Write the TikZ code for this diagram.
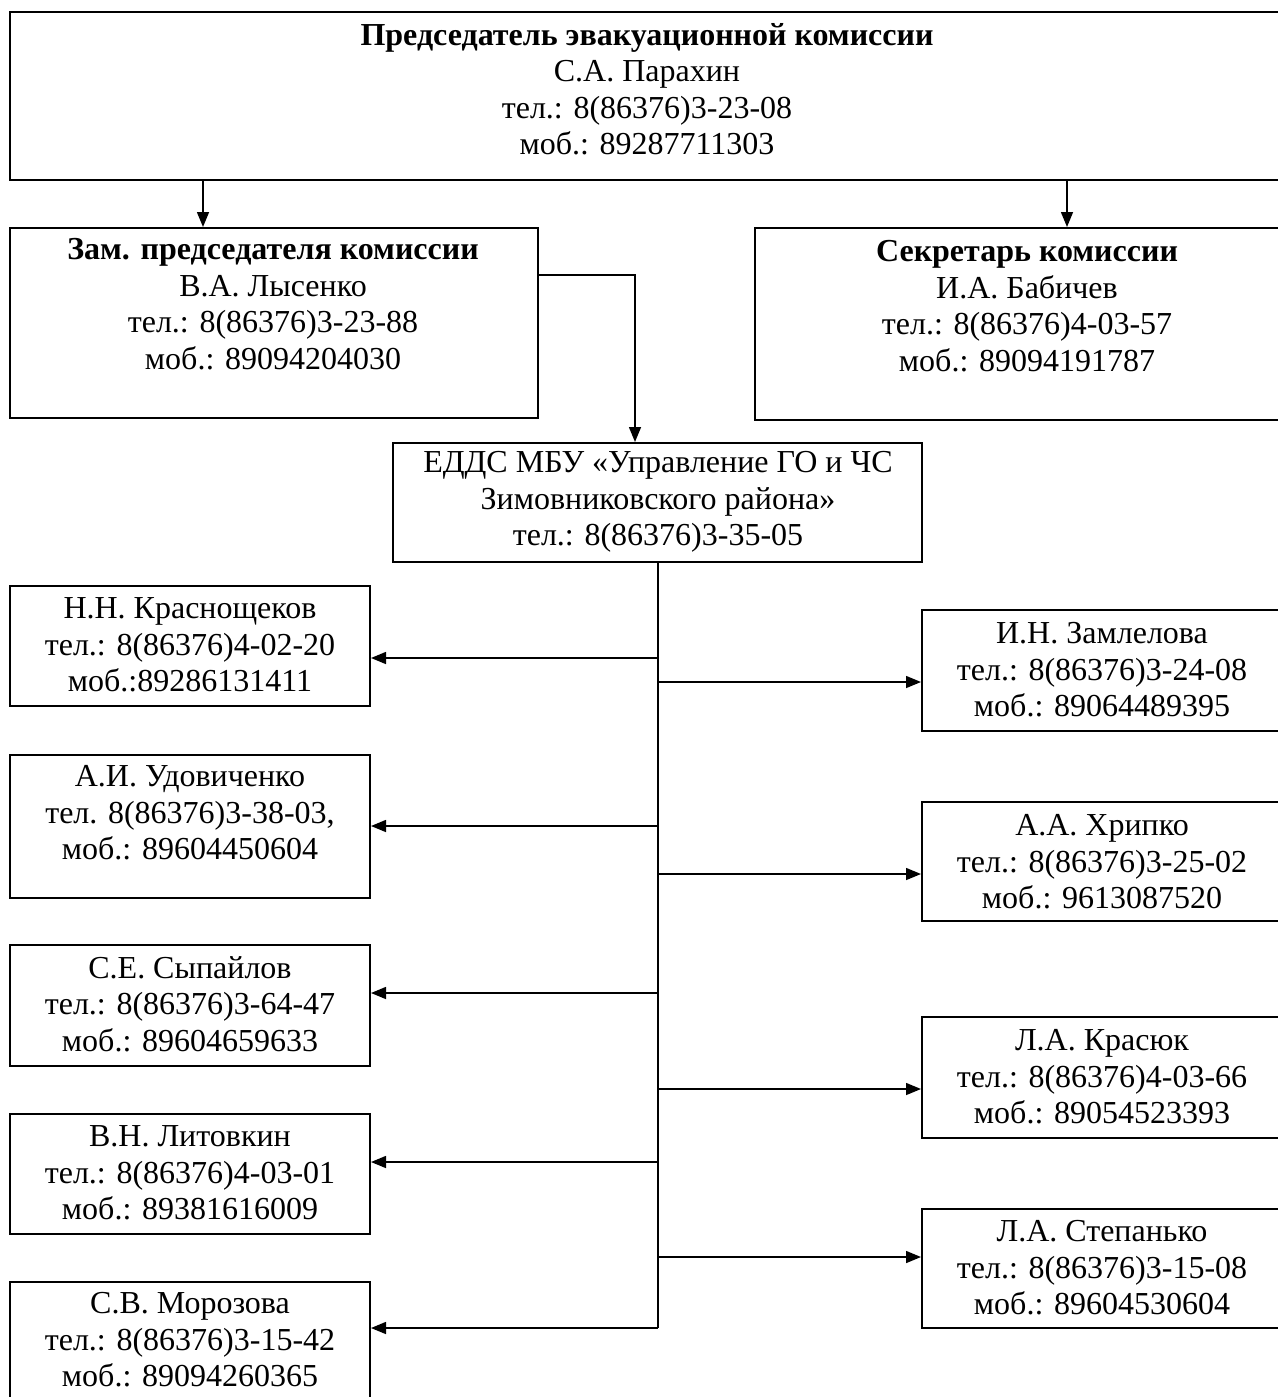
\documentclass[tikz,border=0pt]{standalone}
\usepackage{fontspec}
\setmainfont{Liberation Serif}
\usetikzlibrary{arrows.meta}
\begin{document}
\begin{tikzpicture}[x=1pt,y=-1pt,
  box/.style={draw,line width=2pt,inner sep=0pt},
  txt/.style={align=center,inner sep=0pt,font=\fontsize{32}{36.5}\selectfont},
  conn/.style={line width=1.5pt},
  arr/.style={conn,-{Triangle[length=15pt,width=12pt]}}]
\useasboundingbox (0,0) rectangle (1277,1397);
% boxes
\node[box,minimum width=1285,minimum height=168] (chair) at (652.5,96) {};
\node[box,minimum width=528,minimum height=190] (dep) at (274,323) {};
\node[box,minimum width=530,minimum height=192] (sec) at (1020,324) {};
\node[box,minimum width=529,minimum height=119] (edds) at (657.5,502.5) {};
\node[box,minimum width=360,minimum height=120] (l1) at (190,646) {};
\node[box,minimum width=360,minimum height=143] (l2) at (190,826.5) {};
\node[box,minimum width=360,minimum height=121] (l3) at (190,1005.5) {};
\node[box,minimum width=360,minimum height=120] (l4) at (190,1174) {};
\node[box,minimum width=360,minimum height=130] (l5) at (190,1347) {};
\node[box,minimum width=363,minimum height=121] (r1) at (1103.5,670.5) {};
\node[box,minimum width=363,minimum height=119] (r2) at (1103.5,861.5) {};
\node[box,minimum width=363,minimum height=121] (r3) at (1103.5,1077.5) {};
\node[box,minimum width=363,minimum height=119] (r4) at (1103.5,1268.5) {};
% texts
\node[txt] (tchair) at (647,89) {\textbf{Председатель эвакуационной комиссии}\\С.А. Парахин\\тел.: 8(86376)3-23-08\\моб.: 89287711303};
\node[txt] (tdep) at (273,304) {\textbf{Зам. председателя комиссии}\\В.А. Лысенко\\тел.: 8(86376)3-23-88\\моб.: 89094204030};
\node[txt] (tsec) at (1027,306) {\textbf{Секретарь комиссии}\\И.А. Бабичев\\тел.: 8(86376)4-03-57\\моб.: 89094191787};
\node[txt] (tedds) at (658,502) {ЕДДС МБУ «Управление ГО и ЧС\\Зимовниковского района»\\тел.: 8(86376)3-35-05};
\node[txt] (tl1) at (190,645) {Н.Н. Краснощеков\\тел.: 8(86376)4-02-20\\моб.:89286131411};
\node[txt] (tl2) at (190,813) {А.И. Удовиченко\\тел. 8(86376)3-38-03,\\моб.: 89604450604};
\node[txt] (tl3) at (190,1004) {С.Е. Сыпайлов\\тел.: 8(86376)3-64-47\\моб.: 89604659633};
\node[txt] (tl4) at (190,1173) {В.Н. Литовкин\\тел.: 8(86376)4-03-01\\моб.: 89381616009};
\node[txt] (tl5) at (190,1340) {С.В. Морозова\\тел.: 8(86376)3-15-42\\моб.: 89094260365};
\node[txt] (tr1) at (1102,670) {И.Н. Замлелова\\тел.: 8(86376)3-24-08\\моб.: 89064489395};
\node[txt] (tr2) at (1102,862) {А.А. Хрипко\\тел.: 8(86376)3-25-02\\моб.: 9613087520};
\node[txt] (tr3) at (1102,1077) {Л.А. Красюк\\тел.: 8(86376)4-03-66\\моб.: 89054523393};
\node[txt] (tr4) at (1102,1268) {Л.А. Степанько\\тел.: 8(86376)3-15-08\\моб.: 89604530604};
% connectors
\draw[arr] (chair.south -| 203,0) -- (dep.north -| 203,0);
\draw[arr] (chair.south -| 1067,0) -- (sec.north -| 1067,0);
\draw[arr] (dep.east |- 0,275) -| (edds.north -| 635,0);
\coordinate (trunk) at (658,1328);
\draw[conn] (edds.south -| trunk) -- (trunk);
\draw[arr] (trunk |- 0,658) -- (l1.east |- 0,658);
\draw[arr] (trunk |- 0,826) -- (l2.east |- 0,826);
\draw[arr] (trunk |- 0,993) -- (l3.east |- 0,993);
\draw[arr] (trunk |- 0,1162) -- (l4.east |- 0,1162);
\draw[arr] (trunk) -- (l5.east |- trunk);
\draw[arr] (trunk |- 0,682) -- (r1.west |- 0,682);
\draw[arr] (trunk |- 0,874) -- (r2.west |- 0,874);
\draw[arr] (trunk |- 0,1089) -- (r3.west |- 0,1089);
\draw[arr] (trunk |- 0,1257) -- (r4.west |- 0,1257);
\end{tikzpicture}
\end{document}
